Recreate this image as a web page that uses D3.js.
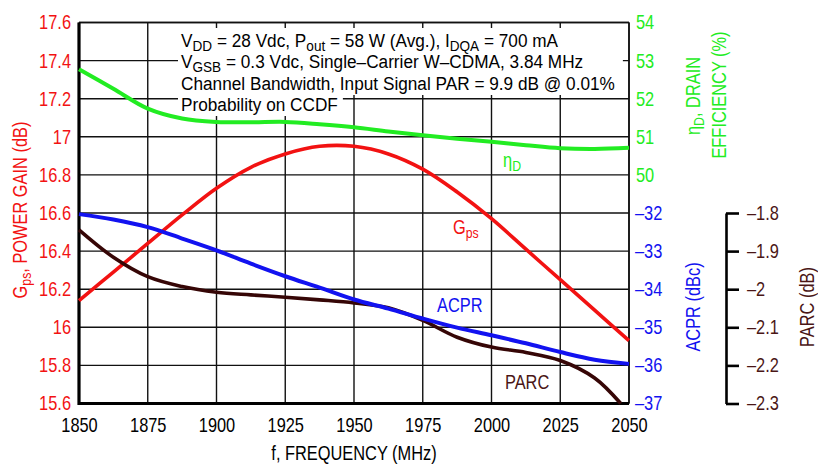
<!DOCTYPE html>
<html>
<head>
<meta charset="utf-8">
<script src="https://cdn.jsdelivr.net/npm/d3@7"></script>
<style>
  html, body { margin: 0; padding: 0; background: #fff; }
  svg text { font-family: "Liberation Sans Narrow", "Arial Narrow", "Liberation Sans", sans-serif; }
</style>
</head>
<body>
<div id="chart"></div>
<script>
// frequency points (MHz)
const freq = [1850, 1862.5, 1875, 1887.5, 1900, 1912.5, 1925, 1937.5, 1950,
  1962.5, 1975, 1987.5, 2000, 2012.5, 2025, 2037.5, 2050]

// Gps, power gain (dB)
const gps = [16.14, 16.29, 16.44, 16.59, 16.73, 16.84, 16.91, 16.95, 16.95,
  16.91, 16.83, 16.71, 16.57, 16.41, 16.25, 16.09, 15.93]

// drain efficiency (%)
const eff = [52.77, 52.26, 51.74, 51.48, 51.39, 51.38, 51.39, 51.33, 51.25,
  51.14, 51.04, 50.95, 50.87, 50.78, 50.70, 50.68, 50.71]

// ACPR (dBc)
const acpr = [-32.03, -32.17, -32.37, -32.67, -32.98, -33.33, -33.66, -33.96, -34.27,
  -34.51, -34.77, -35.01, -35.21, -35.42, -35.65, -35.85, -35.96]

// PARC (dB) - curve runs off the bottom just before 2050
const parcFreq = [1850, 1862.5, 1875, 1887.5, 1900, 1912.5, 1925, 1937.5, 1950,
  1962.5, 1975, 1987.5, 2000, 2012.5, 2025, 2037.5, 2047]
const parc = [-1.844, -1.916, -1.967, -1.993, -2.008, -2.015, -2.021, -2.028, -2.036,
  -2.049, -2.082, -2.126, -2.152, -2.166, -2.187, -2.233, -2.30]

// axis ticks
const freqTicks = [1850, 1875, 1900, 1925, 1950, 1975, 2000, 2025, 2050]
const gainTicks = [15.6, 15.8, 16, 16.2, 16.4, 16.6, 16.8, 17, 17.2, 17.4, 17.6]
const effTicks = [50, 51, 52, 53, 54]
const acprTicks = [-37, -36, -35, -34, -33, -32]
const parcTicks = [-2.3, -2.2, -2.1, -2, -1.9, -1.8]

const annotation = [
  [['V'], ['DD', 'sub'], [' = 28 Vdc, P'], ['out', 'sub'], [' = 58 W (Avg.), I'], ['DQA', 'sub'], [' = 700 mA']],
  [['V'], ['GSB', 'sub'], [' = 0.3 Vdc, Single\u2013Carrier W\u2013CDMA, 3.84 MHz']],
  [['Channel Bandwidth, Input Signal PAR = 9.9 dB @ 0.01%']],
  [['Probability on CCDF']]
]

const RED = '#f21212'
const GREEN = '#22ec22'
const BLUE = '#1212f0'
const BROWN = '#360606'
const BROWN_TXT = '#4a1616'
const NARROW = 0.82 // no condensed face installed, squeeze the glyphs instead

const W = 818, H = 466
const margin = { top: 22.5, left: 79, right: 189, bottom: 62.5 }
const width = W - margin.left - margin.right
const height = H - margin.top - margin.bottom

const svg = d3.select('#chart').append('svg')
  .attr('width', W)
  .attr('height', H)

const x = d3.scaleLinear([1850, 2050], [margin.left, margin.left + width])
const yGain = d3.scaleLinear([15.6, 17.6], [margin.top + height, margin.top])
const yEff = d3.scaleLinear([44, 54], [margin.top + height, margin.top])
const yAcpr = d3.scaleLinear([-37, -27], [margin.top + height, margin.top])
const yParc = d3.scaleLinear([-2.3, -1.8], [margin.top + height, yGain(16.6)])

const dash = d => d < 0 ? '\u2013' + Math.abs(d) : String(d)

// writes plain / subscript parts into a text element
const fillParts = (t, parts, subSize) => {
  let shift = 0
  parts.forEach(([s, kind]) => {
    const sp = t.append('tspan').text(s)
    if (kind === 'sub') {
      sp.attr('font-size', subSize).attr('dy', 4 - shift)
      shift = 4
    } else if (shift) {
      sp.attr('dy', -shift)
      shift = 0
    }
  })
}

// horizontal squeeze of a text sitting at (x, y) in its own frame
const squeeze = (sel, k) => {
  sel.each(function () {
    const n = d3.select(this)
    const px = +n.attr('x') || 0
    n.attr('x', px / k)
    const old = n.attr('transform') || ''
    n.attr('transform', (old + ` scale(${k},1)`).trim())
  })
}

// grid
const grid = svg.append('g').attr('stroke', '#111').attr('stroke-width', 1.4)
grid.selectAll('.h').data(gainTicks).enter().append('line')
  .attr('x1', margin.left).attr('x2', margin.left + width)
  .attr('y1', d => yGain(d)).attr('y2', d => yGain(d))
grid.selectAll('.v').data(freqTicks).enter().append('line')
  .attr('x1', d => x(d)).attr('x2', d => x(d))
  .attr('y1', margin.top).attr('y2', margin.top + height)

// annotation with white backing
const noteBg = svg.append('g')
const noteLines = annotation.map((line, i) => {
  const t = svg.append('text')
    .attr('transform', `translate(181,${47 + i * 21.3})`)
    .attr('font-size', 19)
    .attr('fill', '#000')
  fillParts(t, line, 15)
  return t
})
// squeeze so the longest line spans what the reference shows
const noteK = 434 / noteLines[2].node().getComputedTextLength()
noteLines.forEach(t => squeeze(t, noteK))
const ends = noteLines.map(t => 181 + t.node().getComputedTextLength() * noteK)
noteBg.append('rect')
  .attr('x', 178).attr('y', 28)
  .attr('width', d3.max(ends.slice(0, 3)) + 8 - 178)
  .attr('height', 95 - 28)
  .attr('fill', '#fff')
noteBg.append('rect')
  .attr('x', 178).attr('y', 94)
  .attr('width', ends[3] + 5 - 178)
  .attr('height', 22)
  .attr('fill', '#fff')

// frame
svg.append('line')
  .attr('x1', margin.left).attr('x2', margin.left + width)
  .attr('y1', margin.top).attr('y2', margin.top)
  .attr('stroke', '#111').attr('stroke-width', 1.6)
svg.append('line')
  .attr('x1', margin.left + width).attr('x2', margin.left + width)
  .attr('y1', margin.top).attr('y2', margin.top + height)
  .attr('stroke', '#111').attr('stroke-width', 1.6)
svg.append('path')
  .attr('d', `M${margin.left},${margin.top}V${margin.top + height}H${margin.left + width}`)
  .attr('fill', 'none').attr('stroke', '#000').attr('stroke-width', 3.2)

// curves
const curve = d3.curveCatmullRom.alpha(0.5)
const drawLine = (xs, ys, yScale, color, w) => {
  const line = d3.line()
    .x((d, i) => x(xs[i]))
    .y(d => yScale(d))
    .curve(curve)
  svg.append('path')
    .datum(ys)
    .attr('d', line)
    .attr('fill', 'none')
    .attr('stroke', color)
    .attr('stroke-width', w)
    .attr('stroke-linejoin', 'round')
}
drawLine(freq, eff, yEff, GREEN, 4)
drawLine(freq, gps, yGain, RED, 3.6)
drawLine(parcFreq, parc, yParc, BROWN, 3.6)
drawLine(freq, acpr, yAcpr, BLUE, 4)

// axes
const styleAxis = (g, color) => {
  g.select('.domain').remove()
  g.selectAll('text')
    .attr('fill', color)
    .attr('font-size', 20)
    .attr('font-family', null)
    .call(squeeze, NARROW)
}

svg.append('g')
  .attr('transform', `translate(0,${margin.top + height})`)
  .call(d3.axisBottom(x).tickValues(freqTicks).tickSize(0).tickPadding(14).tickFormat(d3.format('d')))
  .call(g => styleAxis(g, '#000'))

svg.append('g')
  .attr('transform', `translate(${margin.left},0)`)
  .call(d3.axisLeft(yGain).tickValues(gainTicks).tickSize(0).tickPadding(8).tickFormat(d => String(+d.toFixed(1))))
  .call(g => styleAxis(g, RED))

svg.append('g')
  .attr('transform', `translate(${margin.left + width},0)`)
  .call(d3.axisRight(yEff).tickValues(effTicks).tickSize(0).tickPadding(7))
  .call(g => styleAxis(g, GREEN))

svg.append('g')
  .attr('transform', `translate(${margin.left + width},0)`)
  .call(d3.axisRight(yAcpr).tickValues(acprTicks).tickSize(0).tickPadding(6).tickFormat(dash))
  .call(g => styleAxis(g, BLUE))

svg.append('g')
  .attr('transform', `translate(726,0)`)
  .call(d3.axisRight(yParc).tickValues(parcTicks).tickSize(13).tickSizeOuter(0).tickPadding(8).tickFormat(dash))
  .call(g => {
    g.select('.domain').attr('stroke', '#000').attr('stroke-width', 2.6)
    g.selectAll('.tick line').attr('stroke', '#000').attr('stroke-width', 2.6)
    g.selectAll('text').attr('fill', BROWN_TXT).attr('font-size', 20).attr('font-family', null)
      .call(squeeze, NARROW)
  })

// axis titles
const title = (tx, ty, color, parts, rotate) => {
  const t = svg.append('text')
    .attr('transform', `translate(${tx},${ty})` + (rotate ? ' rotate(-90)' : ''))
    .attr('text-anchor', 'middle')
    .attr('font-size', 20)
    .attr('fill', color)
  fillParts(t, parts, 15)
  squeeze(t, NARROW)
}
title(27, 210, RED, [['G'], ['ps', 'sub'], [', POWER GAIN (dB)']], true)
title(700, 96, GREEN, [['\u03b7'], ['D', 'sub'], [', DRAIN']], true)
title(726, 95, GREEN, [['EFFICIENCY (%)']], true)
title(700, 307, BLUE, [['ACPR (dBc)']], true)
title(814, 307, BROWN_TXT, [['PARC (dB)']], true)
title(354, 460, '#000', [['f, FREQUENCY (MHz)']], false)

// in-plot series labels
const seriesLabel = (fx, fy, color, parts) => {
  const t = svg.append('text')
    .attr('transform', `translate(${x(fx)},${fy})`)
    .attr('font-size', 20)
    .attr('fill', color)
  fillParts(t, parts, 15)
  squeeze(t, NARROW)
}
seriesLabel(2004.2, yEff(50.2), GREEN, [['\u03b7'], ['D', 'sub']])
seriesLabel(1986, yGain(16.49), RED, [['G'], ['ps', 'sub']])
seriesLabel(1980.2, yAcpr(-34.61), BLUE, [['ACPR']])
seriesLabel(2004.9, yParc(-2.263), BROWN_TXT, [['PARC']])
</script>
</body>
</html>
